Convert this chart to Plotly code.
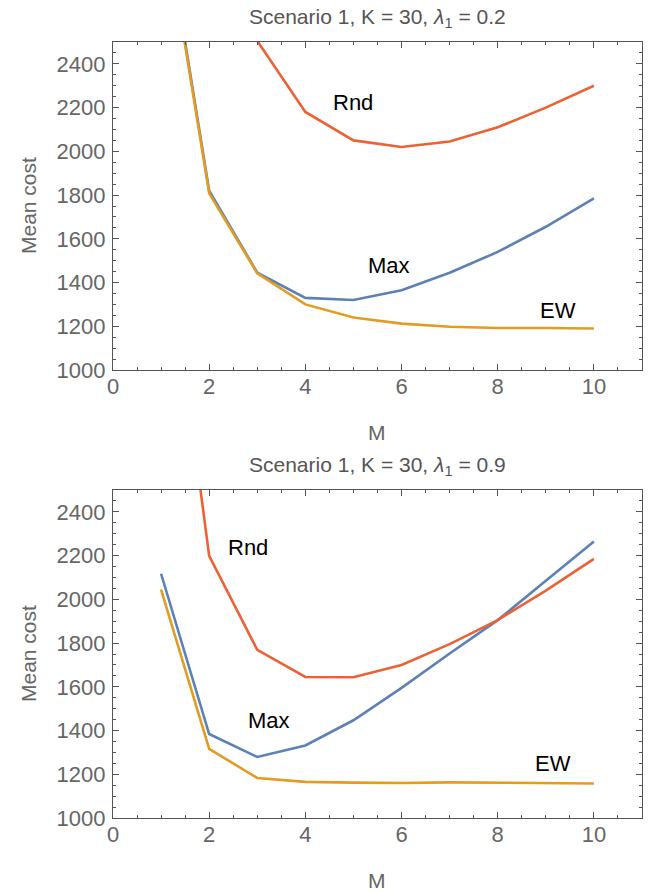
import plotly.graph_objects as go

M = [1, 2, 3, 4, 5, 6, 7, 8, 9, 10]

# Scenario 1, K = 30, lambda1 = 0.2
top_max = [3180, 1820, 1445, 1330, 1320, 1365, 1445, 1540, 1655, 1785]
top_ew = [3160, 1808, 1442, 1300, 1240, 1212, 1198, 1192, 1192, 1190]
top_rnd = [6000, 3800, 2505, 2180, 2050, 2020, 2045, 2110, 2200, 2300]

# Scenario 1, K = 30, lambda1 = 0.9
bot_max = [2117, 1384, 1279, 1332, 1447, 1595, 1752, 1905, 2085, 2265]
bot_ew = [2044, 1316, 1183, 1165, 1162, 1160, 1163, 1162, 1158, 1158]
bot_rnd = [3870, 2199, 1769, 1645, 1644, 1700, 1795, 1905, 2040, 2185]

titles = ["Scenario 1, K = 30, <i>λ</i><sub>1</sub> = 0.2",
          "Scenario 1, K = 30, <i>λ</i><sub>1</sub> = 0.9"]

x_ticks = [0, 2, 4, 6, 8, 10]
y_ticks = [1000, 1200, 1400, 1600, 1800, 2000, 2200, 2400]

# label positions (data coords)
top_labels = [("Rnd", 5.0, 2222), ("Max", 5.73, 1480), ("EW", 9.25, 1270)]
bot_labels = [("Rnd", 2.8, 2236), ("Max", 3.25, 1444), ("EW", 9.15, 1247)]

C_MAX = "#5E81B5"
C_EW = "#E19C24"
C_RND = "#EB6235"
FONT = "Liberation Sans"
GRAY = "#666666"

W, H = 660, 892
fig = go.Figure()

panels = [
    (top_max, top_ew, top_rnd, top_labels, "x", "y", (42, 370)),
    (bot_max, bot_ew, bot_rnd, bot_labels, "x2", "y2", (490, 818)),
]

for i, (mx, ew, rnd, labs, xa, ya, (ytop, ybot)) in enumerate(panels):
    for ys, c in [(mx, C_MAX), (ew, C_EW), (rnd, C_RND)]:
        fig.add_trace(go.Scatter(x=M, y=ys, mode="lines", xaxis=xa, yaxis=ya,
                                 line=dict(color=c, width=2.6), showlegend=False,
                                 cliponaxis=True))
    for txt, lx, ly in labs:
        fig.add_annotation(text=txt, x=lx, y=ly, xref=xa, yref=ya, showarrow=False,
                           font=dict(family=FONT, size=22, color="black"))
    dom = [1 - ybot / H, 1 - ytop / H]
    axcommon = dict(showline=True, linecolor="#555555", linewidth=1.3, mirror="ticks",
                    ticks="inside", ticklen=6, tickcolor="#555555", tickwidth=1,
                    showgrid=False, zeroline=False, automargin=False,
                    tickfont=dict(family=FONT, size=22, color=GRAY))
    xname = "xaxis" if i == 0 else "xaxis2"
    yname = "yaxis" if i == 0 else "yaxis2"
    fig.layout[xname] = dict(axcommon, domain=[113 / W, 642 / W], range=[0, 11],
                             tickvals=x_ticks, anchor=ya, ticklabelstandoff=-4,
                             minor=dict(dtick=0.5, tick0=0, ticks="inside", ticklen=3,
                                        tickcolor="#555555", showgrid=False))
    fig.layout[yname] = dict(axcommon, domain=dom, range=[1000, 2500],
                             tickvals=y_ticks, anchor=xa, ticklabelstandoff=2,
                             minor=dict(dtick=50, tick0=1000, ticks="inside", ticklen=3,
                                        tickcolor="#555555", showgrid=False))
    # axis titles
    fig.add_annotation(text="M", x=377 / W, y=1 - (ybot + 62) / H, xref="paper", yref="paper",
                       showarrow=False, font=dict(family=FONT, size=21, color=GRAY),
                       xanchor="center", yanchor="middle")
    fig.add_annotation(text="Mean cost", x=28 / W, y=1 - ((ytop + ybot) / 2) / H,
                       xref="paper", yref="paper", textangle=-90,
                       showarrow=False, font=dict(family=FONT, size=21, color=GRAY),
                       xanchor="center", yanchor="middle")
    fig.add_annotation(text=titles[i], x=377 / W, y=1 - (ytop - 24) / H, xref="paper", yref="paper",
                       showarrow=False, font=dict(family=FONT, size=21, color="#555555"),
                       xanchor="center", yanchor="middle")

fig.update_layout(width=W, height=H, margin=dict(l=0, r=0, t=0, b=0),
                  plot_bgcolor="white", paper_bgcolor="white")

fig.write_html("out.html", config={"displayModeBar": False},
               post_script="document.body.style.margin='0px';")
